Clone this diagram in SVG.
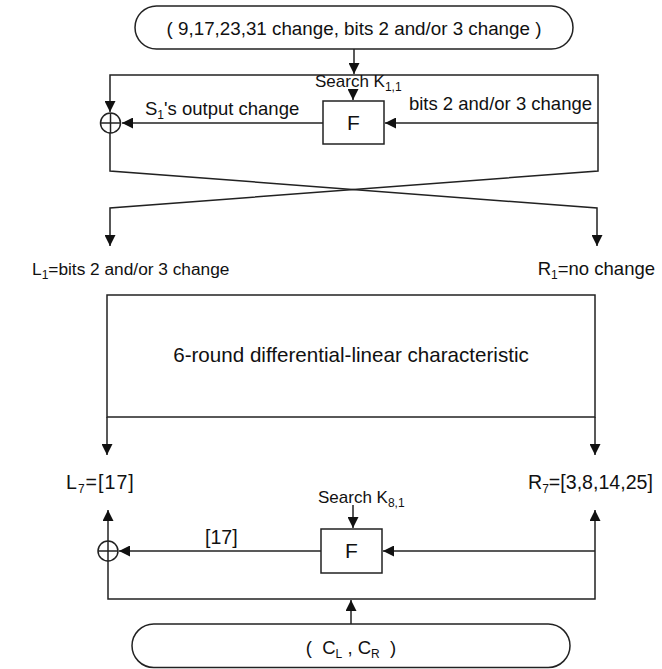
<svg xmlns="http://www.w3.org/2000/svg" width="662" height="669" viewBox="0 0 662 669">
<style>
.ln{fill:none;stroke:#222;stroke-width:1.5}
.bx{fill:#fff;stroke:#222;stroke-width:1.5}
.t{font-family:"Liberation Sans",Arial,sans-serif;font-size:18.5px;fill:#111}
.s{font-size:12px}
.f{font-family:"Liberation Sans",Arial,sans-serif;font-size:21px;fill:#111}
.big{font-size:20.6px}
.sm{font-size:17px}
.l1{font-size:17.3px}
.top{font-size:18.8px}
.bt{font-size:19.6px}
</style>
<defs>
<marker id="ah" markerUnits="userSpaceOnUse" markerWidth="11" markerHeight="11" refX="10" refY="5" orient="auto" viewBox="0 0 10 10">
<path d="M0,0 L10,5 L0,10 z" fill="#111"/>
</marker>
</defs>
<g id="connectors">
<line class="ln" x1="354" y1="49" x2="354" y2="74" marker-end="url(#ah)"/>
<polyline class="ln" points="598,123 598,75 110,75 110,112" marker-end="url(#ah)"/>
<line class="ln" x1="598" y1="123" x2="385" y2="123" marker-end="url(#ah)"/>
<line class="ln" x1="323" y1="123" x2="122" y2="123" marker-end="url(#ah)"/>
<line class="ln" x1="353" y1="89" x2="353" y2="100" marker-end="url(#ah)"/>
<polyline class="ln" points="598,123 598,171 110,208 110,246" marker-end="url(#ah)"/>
<polyline class="ln" points="110,133 110,171 597,208 597,246" marker-end="url(#ah)"/>
<line class="ln" x1="107" y1="417" x2="107" y2="455" marker-end="url(#ah)"/>
<line class="ln" x1="595" y1="417" x2="595" y2="455" marker-end="url(#ah)"/>
<line class="ln" x1="353" y1="505" x2="353" y2="528" marker-end="url(#ah)"/>
<line class="ln" x1="595" y1="551" x2="383" y2="551" marker-end="url(#ah)"/>
<line class="ln" x1="321" y1="551" x2="119" y2="551" marker-end="url(#ah)"/>
<polyline class="ln" points="108,561 108,599 595,599 595,510" marker-end="url(#ah)"/>
<line class="ln" x1="108" y1="541" x2="108" y2="510" marker-end="url(#ah)"/>
<line class="ln" x1="351" y1="624" x2="351" y2="600" marker-end="url(#ah)"/>
</g>
<g id="input">
<rect class="bx" x="135" y="6" width="438" height="43" rx="21.5"/>
<text class="t top" x="354" y="35" text-anchor="middle">( 9,17,23,31 change, bits 2 and/or 3 change )</text>
</g>
<g id="xor1">
<circle class="ln" cx="110.5" cy="123" r="10"/>
<line class="ln" x1="100.5" y1="123" x2="120.5" y2="123"/>
<line class="ln" x1="110.5" y1="113" x2="110.5" y2="133"/>
</g>
<g id="F1">
<rect class="bx" x="323" y="101" width="61" height="43"/>
<text class="f" x="353.5" y="130" text-anchor="middle">F</text>
</g>
<g id="labels1">
<text class="t sm" x="315" y="87">Search K<tspan class="s" dy="4">1,1</tspan></text>
<text class="t" x="145" y="115">S<tspan class="s" dy="4">1</tspan><tspan dy="-4">'s output change</tspan></text>
<text class="t" x="592" y="110" text-anchor="end">bits 2 and/or 3 change</text>
<text class="t l1" x="32" y="275">L<tspan class="s" dy="4">1</tspan><tspan dy="-4">=bits 2 and/or 3 change</tspan></text>
<text class="t" x="655" y="275" text-anchor="end">R<tspan class="s" dy="4">1</tspan><tspan dy="-4">=no change</tspan></text>
</g>
<g id="rounds">
<rect class="bx" x="107" y="295" width="488" height="122"/>
<text class="t big" x="351" y="362" text-anchor="middle">6-round differential-linear characteristic</text>
</g>
<g id="labels2">
<text class="t bt" x="66" y="489" letter-spacing="1">L<tspan class="s" dy="4">7</tspan><tspan dy="-4">=[17]</tspan></text>
<text class="t bt" x="528" y="489">R<tspan class="s" dy="4">7</tspan><tspan dy="-4">=[3,8,14,25]</tspan></text>
<text class="t sm" x="318" y="503">Search K<tspan class="s" dy="4">8,1</tspan></text>
<text class="t bt" x="205" y="544">[17]</text>
</g>
<g id="xor2">
<circle class="ln" cx="108" cy="551" r="10"/>
<line class="ln" x1="98" y1="551" x2="118" y2="551"/>
<line class="ln" x1="108" y1="541" x2="108" y2="561"/>
</g>
<g id="F2">
<rect class="bx" x="321" y="529" width="61" height="44"/>
<text class="f" x="351.5" y="558" text-anchor="middle">F</text>
</g>
<g id="output">
<rect class="bx" x="132" y="624" width="438" height="43.5" rx="21.75"/>
<text class="t" x="351" y="654" text-anchor="middle" xml:space="preserve">(  C<tspan class="s" dy="4">L</tspan><tspan dy="-4"> , C</tspan><tspan class="s" dy="4">R</tspan><tspan dy="-4">  )</tspan></text>
</g>
</svg>
